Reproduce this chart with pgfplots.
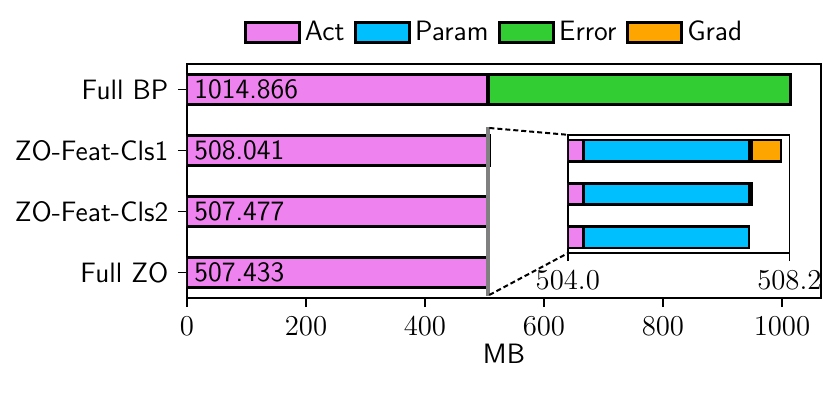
\documentclass[border=0pt]{standalone}
\usepackage{fontspec}
\usepackage{pgfplots}
\pgfplotsset{compat=1.18}
\renewcommand{\familydefault}{\sfdefault}
\definecolor{cAct}{HTML}{EE82EE}
\definecolor{cParam}{HTML}{00BFFF}
\definecolor{cErr}{HTML}{32CD32}
\definecolor{cGrad}{HTML}{FFA500}
\pgfplotsset{
    barleg/.style={legend image code/.code={
        \draw[##1, line width=1.4pt] (0pt,-5pt) rectangle (27pt,5pt);}},
    common/.style={
        scale only axis, xbar stacked,
        tick align=outside, tick pos=left,
        axis line style={line width=0.8pt},
        tick style={line width=0.8pt, black},
        /pgf/number format/set thousands separator={},
    },
}
\begin{document}
\fontsize{14}{17}\selectfont
\begin{tikzpicture}
\useasboundingbox (-93.5pt,-47pt) rectangle (322.5pt,149pt);
\begin{axis}[common, name=main,
    at={(0pt,0pt)}, anchor=south west,
    width=317pt, height=117pt, bar width=15pt,
    xmin=0, xmax=1065.6, ymin=-0.42, ymax=3.42,
    xtick={0,200,...,1000},
    ytick={0,1,2,3},
    yticklabels={Full ZO,ZO-Feat-Cls2,ZO-Feat-Cls1,Full BP},
    major tick length=4.5pt,
    xlabel={MB},
    xlabel style={yshift=5pt},
    legend columns=4,
    legend style={at={(0.486,1.133)}, anchor=center, draw=none, fill=none,
        /tikz/every even column/.append style={column sep=3pt}},
]
    % zoom region marker
    \draw[gray, line width=0.9pt] (axis cs:504,-0.37) rectangle (axis cs:508.2,2.37);
    \addplot[fill=cAct, draw=black, line width=1.4pt, barleg] coordinates {(504.3,0) (504.3,1) (504.3,2) (504.3,3)};
    \addplot[fill=cParam, draw=black, line width=1.4pt, barleg] coordinates {(3.133,0) (3.133,1) (3.133,2) (3.133,3)};
    \addplot[fill=cErr, draw=black, line width=1.4pt, barleg] coordinates {(0,0) (0.044,1) (0.05,2) (507.433,3)};
    \addplot[fill=cGrad, draw=black, line width=1.4pt, barleg] coordinates {(0,0) (0,1) (0.558,2) (0,3)};
    \legend{Act,Param,Error,Grad}
    \coordinate (l3) at (axis cs:0,3);
    \coordinate (l2) at (axis cs:0,2);
    \coordinate (l1) at (axis cs:0,1);
    \coordinate (l0) at (axis cs:0,0);
    \coordinate (zt) at (axis cs:508.2,2.37);
    \coordinate (zb) at (axis cs:508.2,-0.37);
\end{axis}
\begin{axis}[common, name=inset,
    at={(190.4pt,22.4pt)}, anchor=south west,
    width=110.8pt, height=59.2pt, bar width=10.85pt,
    xmin=504, xmax=508.2, ymin=-0.37, ymax=2.37,
    xtick={504,508.2}, ytick=\empty,
    major tick length=4pt,
    xticklabel style={/pgf/number format/.cd, fixed, fixed zerofill, precision=1},
    axis background/.style={fill=white},
]
    \addplot[fill=cAct, draw=black, line width=1.4pt] coordinates {(504.3,0) (504.3,1) (504.3,2)};
    \addplot[fill=cParam, draw=black, line width=1.4pt] coordinates {(3.133,0) (3.133,1) (3.133,2)};
    \addplot[fill=cErr, draw=black, line width=1.4pt] coordinates {(0,0) (0.044,1) (0.05,2)};
    \addplot[fill=cGrad, draw=black, line width=1.4pt] coordinates {(0,0) (0,1) (0.558,2)};
\end{axis}
\foreach \c/\t in {l3/1014.866, l2/508.041, l1/507.477, l0/507.433}
    \node[anchor=west, inner sep=1pt, xshift=2.5pt] at (\c) {\t};
\draw[black, line width=1pt, dash pattern=on 2.5pt off 1.5pt] (zt) -- (inset.north west);
\draw[black, line width=1pt, dash pattern=on 2.5pt off 1.5pt] (zb) -- (inset.south west);
\end{tikzpicture}
\end{document}
